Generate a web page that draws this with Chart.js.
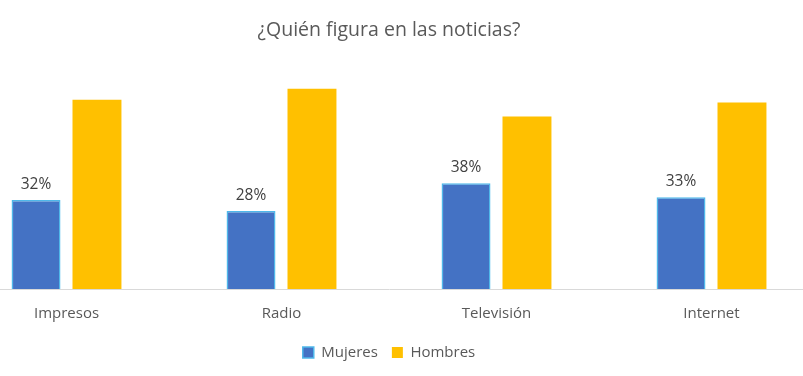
<!DOCTYPE html>
<html>
<head>
<meta charset="utf-8">
<script src="https://cdn.jsdelivr.net/npm/chart.js@4.4.1/dist/chart.umd.min.js"></script>
<style>
  html, body { margin: 0; padding: 0; background: #fff; overflow: hidden; }
  body { width: 803px; height: 376px; position: relative; }
  /* plot area in the source is cropped on both sides, so the canvas is wider than the page */
  #wrap { position: absolute; left: -41px; top: 0; width: 860px; height: 376px; }
</style>
</head>
<body>
<div id="wrap"><canvas id="newsChart"></canvas></div>
<script>
// ── Data ──────────────────────────────────────────────────────────────
const categories = ['Impresos', 'Radio', 'Televisión', 'Internet'];
const mujeres    = [32, 28, 38, 33];
const hombres    = [68, 72, 62, 67];
const seriesNames = ['Mujeres', 'Hombres'];

const FONT = "'Open Sans', sans-serif";
const TEXT = '#595959';

// ── Value labels above the Mujeres bars ──────────────────────────────
const barLabels = {
  id: 'barLabels',
  afterDatasetsDraw(chart) {
    const ctx  = chart.ctx;
    const meta = chart.getDatasetMeta(0);
    ctx.save();
    ctx.font = '15.5px ' + FONT;
    ctx.fillStyle = '#404040';
    ctx.textAlign = 'center';
    ctx.textBaseline = 'alphabetic';
    meta.data.forEach((bar, i) => {
      ctx.fillText(mujeres[i] + '%', bar.x, bar.y - 11);
    });
    ctx.restore();
  },
};

new Chart(document.getElementById('newsChart'), {
  type: 'bar',
  data: {
    labels: categories,
    datasets: [
      {
        label: seriesNames[0],
        data: mujeres,
        backgroundColor: '#4472C4',
        borderColor: '#4FB8EA',
        borderWidth: 1.5,
        categoryPercentage: 0.567,
        barPercentage: 0.803,
      },
      {
        label: seriesNames[1],
        data: hombres,
        backgroundColor: '#FFC000',
        borderColor: '#FFC000',
        borderWidth: 0,
        categoryPercentage: 0.567,
        barPercentage: 0.803,
      },
    ],
  },
  options: {
    responsive: true,
    maintainAspectRatio: false,
    animation: false,
    layout: { padding: { top: 0, bottom: 6, left: 0, right: 0 } },
    plugins: {
      title: {
        display: true,
        text: '¿Quién figura en las noticias?',
        color: TEXT,
        font: { family: FONT, size: 19.5, weight: 'normal' },
        padding: { top: 19, bottom: 24 },
      },
      legend: {
        display: true,
        position: 'bottom',
        labels: {
          color: TEXT,
          font: { family: FONT, size: 15 },
          boxWidth: 11,
          boxHeight: 11,
          padding: 14,
        },
      },
      tooltip: { enabled: false },
    },
    scales: {
      x: {
        grid: { display: false },
        border: { display: true, color: '#d9d9d9', width: 1 },
        ticks: { color: TEXT, font: { family: FONT, size: 15 }, padding: 8 },
      },
      y: {
        display: false,
        min: 0,
        max: 80,
      },
    },
  },
  plugins: [barLabels],
});
</script>
</body>
</html>
